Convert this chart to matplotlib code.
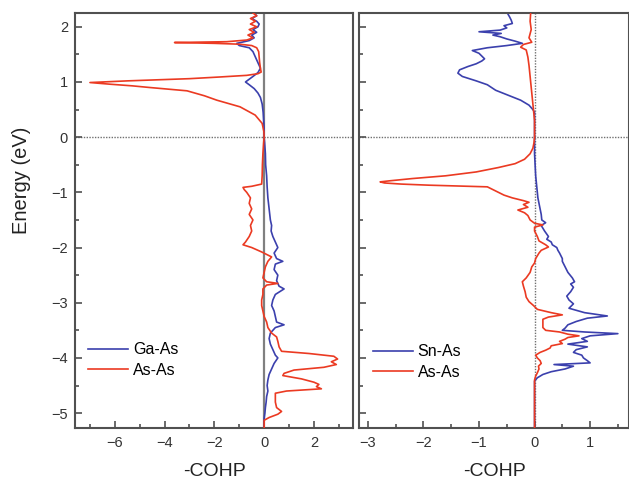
import matplotlib
matplotlib.use("Agg")
import matplotlib.pyplot as plt
from matplotlib.ticker import MultipleLocator

plt.rcParams['font.family'] = ['Liberation Sans', 'DejaVu Sans']

# ---------------- data ----------------
# Left panel: Ga-As (blue)
gaas_E = [2.25, 2.2, 2.15, 2.1, 2.05, 2.0, 1.95, 1.9, 1.85, 1.8, 1.75, 1.70, 1.66, 1.62, 1.55, 1.45,
          1.35, 1.25, 1.17, 1.1, 1.05, 1.0, 0.95, 0.88, 0.8, 0.72, 0.6, 0.45, 0.3, 0.15, 0.0,
          -0.1, -0.3, -0.5, -0.7, -0.9, -1.1, -1.3, -1.5, -1.6, -1.7, -1.8, -1.9, -2.0, -2.1, -2.2,
          -2.25, -2.3, -2.4, -2.5, -2.6, -2.7, -2.75, -2.85, -2.95, -3.05, -3.15, -3.25, -3.35, -3.4,
          -3.45, -3.55, -3.65, -3.75, -3.85, -3.95, -4.0, -4.1, -4.2, -4.3, -4.4, -4.5, -4.6, -4.7,
          -4.8, -4.9, -5.0, -5.1, -5.2, -5.27]
gaas_C = [-0.4, -0.3, -0.5, -0.3, -0.2, -0.25, -0.45, -0.3, -0.5, -0.4, -0.6, -1.1, -1.0, -0.6, -0.45, -0.35,
          -0.25, -0.15, -0.25, -0.45, -0.6, -0.75, -0.6, -0.4, -0.25, -0.15, -0.08, -0.04, -0.02, 0.0, 0.0,
          0.02, 0.05, 0.06, 0.1, 0.12, 0.15, 0.2, 0.25, 0.3, 0.28, 0.35, 0.45, 0.55, 0.4, 0.5,
          0.75, 0.45, 0.4, 0.55, 0.5, 0.6, 0.8, 0.45, 0.35, 0.3, 0.4, 0.45, 0.5, 0.8,
          0.45, 0.25, 0.2, 0.25, 0.35, 0.45, 0.55, 0.4, 0.3, 0.2, 0.15, 0.12, 0.15, 0.1,
          0.08, 0.05, 0.03, 0.0, 0.0, 0.0]

# Left panel: As-As (red)
asas1_E = [2.25, 2.2, 2.15, 2.1, 2.05, 2.0, 1.95, 1.9, 1.85, 1.8, 1.76, 1.73, 1.715, 1.70, 1.685, 1.66,
           1.62, 1.55, 1.45, 1.35, 1.25, 1.18, 1.15, 1.12, 1.09, 1.06, 1.02, 0.99, 0.96, 0.93, 0.90,
           0.84, 0.75, 0.67, 0.55, 0.40, 0.25, 0.10, 0.0,
           -0.1, -0.3, -0.5, -0.7, -0.85, -0.89, -0.91, -0.95, -1.0, -1.1, -1.2, -1.3, -1.4, -1.5,
           -1.6, -1.7, -1.8, -1.9, -1.95, -2.0, -2.08, -2.17, -2.25, -2.35, -2.45, -2.55, -2.62,
           -2.65, -2.68, -2.75, -2.85, -2.95, -3.05, -3.15, -3.25, -3.35, -3.45, -3.55, -3.62,
           -3.7, -3.8, -3.88, -3.92, -3.97, -4.02, -4.07, -4.12, -4.17, -4.22, -4.28, -4.32, -4.38,
           -4.44, -4.48, -4.52, -4.56, -4.6, -4.64, -4.7, -4.8, -4.9, -4.97, -5.02, -5.08, -5.13,
           -5.2, -5.27]
asas1_C = [-0.45, -0.3, -0.55, -0.35, -0.55, -0.3, -0.6, -0.4, -0.65, -0.45, -0.7, -1.5, -3.6, -2.0, -1.0, -0.5,
           -0.3, -0.22, -0.2, -0.18, -0.15, -0.12, -0.25, -0.7, -1.8, -3.0, -5.5, -7.0, -6.2, -5.3, -4.6,
           -3.1, -2.4, -1.9, -0.97, -0.36, -0.08, -0.01, 0.0,
           -0.02, -0.05, -0.07, -0.08, -0.1, -0.5, -0.85, -0.8, -0.7, -0.55, -0.6, -0.5, -0.6, -0.45,
           -0.55, -0.5, -0.6, -0.75, -0.85, -0.5, -0.1, 0.3, 0.15, 0.05, 0.0, -0.05, 0.1,
           0.55, 0.1, -0.05, -0.05, -0.1, -0.1, -0.05, 0.0, 0.1, 0.15, 0.3, 0.5,
           0.55, 0.6, 0.7, 1.8, 2.8, 2.95, 2.7, 2.9, 2.4, 1.2, 0.8, 0.75, 1.5,
           2.0, 2.2, 2.1, 2.3, 0.9, 0.45, 0.45, 0.45, 0.5, 0.7, 0.55, 0.2, 0.0,
           0.0, 0.0]

# Right panel: Sn-As (blue)
snas_E = [2.25, 2.18, 2.12, 2.06, 2.02, 1.98, 1.94, 1.91, 1.88, 1.85, 1.82, 1.78, 1.74, 1.70, 1.66, 1.62,
          1.57, 1.52, 1.47, 1.42, 1.38, 1.33, 1.28, 1.22, 1.16, 1.10, 1.02, 0.95, 0.85, 0.75, 0.67,
          0.58, 0.5, 0.45, 0.3, 0.1, -0.1, -0.3, -0.5, -0.7, -0.9, -1.0, -1.1, -1.2, -1.3, -1.4,
          -1.5, -1.55, -1.6, -1.7, -1.8, -1.85, -1.9, -1.95, -2.0, -2.05, -2.1, -2.2, -2.25, -2.35,
          -2.45, -2.55, -2.62, -2.66, -2.72, -2.8, -2.88, -2.95, -3.02, -3.1, -3.18, -3.24, -3.28,
          -3.34, -3.4, -3.46, -3.5, -3.53, -3.56, -3.6, -3.65, -3.7, -3.75, -3.8, -3.85, -3.9,
          -3.95, -4.0, -4.05, -4.09, -4.12, -4.15, -4.2, -4.25, -4.3, -4.36, -4.42, -4.46, -4.6,
          -4.8, -5.0, -5.27]
snas_C = [-0.49, -0.45, -0.42, -0.40, -0.55, -0.5, -0.62, -1.0, -0.6, -0.75, -0.62, -0.5, -0.35, -0.22, -0.5, -0.85,
          -1.12, -1.0, -0.95, -0.9, -0.95, -1.05, -1.2, -1.35, -1.38, -1.3, -1.05, -0.85, -0.7, -0.45, -0.25,
          -0.1, -0.03, 0.0, 0.0, 0.0, 0.0, 0.0, 0.01, 0.02, 0.04, 0.05, 0.06, 0.08, 0.1, 0.12,
          0.13, 0.2, 0.12, 0.18, 0.25, 0.22, 0.3, 0.32, 0.4, 0.42, 0.45, 0.5, 0.5, 0.55,
          0.6, 0.68, 0.72, 0.65, 0.7, 0.65, 0.58, 0.62, 0.7, 0.62, 0.9, 1.31, 0.95,
          0.75, 0.6, 0.55, 0.5, 0.9, 1.5, 1.0, 0.85, 0.95, 0.6, 0.95, 0.75, 0.7,
          0.85, 0.88, 0.95, 1.0, 0.35, 0.7, 0.55, 0.3, 0.15, 0.05, 0.0, 0.0, 0.0,
          0.0, 0.0, 0.0]

# Right panel: As-As (red)
asas2_E = [2.25, 2.1, 1.95, 1.8, 1.72, 1.68, 1.63, 1.58, 1.45, 1.3, 1.1, 0.9, 0.7, 0.5, 0.3, 0.1, 0.0,
           -0.1, -0.2, -0.3, -0.4, -0.48, -0.55, -0.63, -0.7, -0.75, -0.79, -0.81, -0.83, -0.85,
           -0.87, -0.89, -0.9, -0.95, -1.0, -1.05, -1.1, -1.15, -1.18, -1.22, -1.27, -1.32, -1.37,
           -1.42, -1.5, -1.56, -1.59, -1.63, -1.7, -1.8, -1.88, -1.95, -1.99, -2.05, -2.1, -2.2,
           -2.28, -2.35, -2.45, -2.55, -2.62, -2.7, -2.8, -2.9, -2.98, -3.05, -3.12, -3.18, -3.22,
           -3.26, -3.3, -3.38, -3.45, -3.5, -3.53, -3.57, -3.6, -3.63, -3.66, -3.7, -3.74, -3.78,
           -3.82, -3.86, -3.9, -3.95, -4.0, -4.05, -4.1, -4.15, -4.2, -4.27, -4.33, -4.4, -5.27]
asas2_C = [-0.07, -0.08, -0.06, -0.1, -0.05, -0.2, -0.25, -0.15, -0.12, -0.1, -0.08, -0.06, -0.04, -0.02, 0.0, 0.0, 0.0,
           -0.01, -0.03, -0.08, -0.18, -0.35, -0.65, -1.05, -1.6, -2.2, -2.6, -2.78, -2.7, -2.4,
           -1.9, -1.2, -0.85, -0.75, -0.65, -0.55, -0.4, -0.2, -0.1, -0.2, -0.12, -0.3, -0.18,
           -0.12, -0.08, 0.0, 0.15, 0.0, 0.0, 0.05, 0.08, 0.2, 0.25, 0.12, 0.08, 0.02,
           0.0, -0.05, -0.08, -0.15, -0.22, -0.2, -0.17, -0.15, -0.1, -0.02, 0.05, 0.3, 0.5,
           0.25, 0.15, 0.15, 0.15, 0.2, 0.45, 0.6, 0.8, 0.6, 0.55, 0.45, 0.5, 0.3,
           0.28, 0.2, 0.1, 0.02, 0.05, 0.1, 0.12, 0.07, 0.08, 0.05, 0.02, 0.0, 0.0]

left_xticks = [-6, -4, -2, 0, 2]
right_xticks = [-3, -2, -1, 0, 1]
yticks = [-5, -4, -3, -2, -1, 0, 1, 2]

BLUE = '#3b40ad'
RED = '#eb3a22'
SPINE = '#505050'

fig = plt.figure(figsize=(6.29, 4.83), dpi=100)
W, H = 629, 483
ax1 = fig.add_axes([75 / W, 1 - 428 / H, (353 - 75) / W, (428 - 13) / H])
ax2 = fig.add_axes([359 / W, 1 - 428 / H, (629 - 359) / W, (428 - 13) / H])

for ax in (ax1, ax2):
    ax.set_ylim(-5.27, 2.25)
    ax.set_yticks(yticks)
    ax.yaxis.set_minor_locator(MultipleLocator(0.5))
    for s in ax.spines.values():
        s.set_color(SPINE)
        s.set_linewidth(1.5)
    ax.tick_params(which='both', direction='in', top=False, right=False,
                   color=SPINE, width=1.2, labelsize=10.5, labelcolor='#333333')
    ax.tick_params(which='major', length=5)
    ax.tick_params(which='minor', length=3)
    ax.tick_params(axis='x', pad=6)
    ax.tick_params(axis='y', pad=5)
    ax.axhline(0, color='#707070', ls=(0, (1, 1)), lw=1.0, zorder=1)
    ax.set_xlabel('-COHP', fontsize=14, labelpad=9, color='#222222')

# left panel
ax1.set_xlim(-7.6, 3.57)
ax1.set_xticks(left_xticks)
ax1.xaxis.set_minor_locator(MultipleLocator(1))
ax1.axvline(0, color='#808080', lw=1.6, zorder=1)
ax1.plot(gaas_C, gaas_E, color=BLUE, lw=1.2, label='Ga-As', zorder=2)
ax1.plot(asas1_C, asas1_E, color=RED, lw=1.2, label='As-As', zorder=3)
ax1.set_ylabel('Energy (eV)', fontsize=14.5, color='#222222')
ax1.yaxis.set_label_coords(-0.158, 0.598)
ax1.legend(loc='center left', bbox_to_anchor=(0.047, 0.164), frameon=False,
           fontsize=11.5, handlelength=2.5, handletextpad=0.3, borderpad=0,
           borderaxespad=0, labelspacing=0.35)

# right panel
ax2.set_xlim(-3.16, 1.7)
ax2.set_xticks(right_xticks)
ax2.xaxis.set_minor_locator(MultipleLocator(0.5))
ax2.set_yticklabels([])
ax2.axvline(0, color='#707070', ls=(0, (1, 1)), lw=1.0, zorder=1)
ax2.plot(snas_C, snas_E, color=BLUE, lw=1.2, label='Sn-As', zorder=2)
ax2.plot(asas2_C, asas2_E, color=RED, lw=1.2, label='As-As', zorder=3)
ax2.legend(loc='center left', bbox_to_anchor=(0.052, 0.159), frameon=False,
           fontsize=11.5, handlelength=2.5, handletextpad=0.3, borderpad=0,
           borderaxespad=0, labelspacing=0.35)

fig.savefig('out.png', dpi=100)
